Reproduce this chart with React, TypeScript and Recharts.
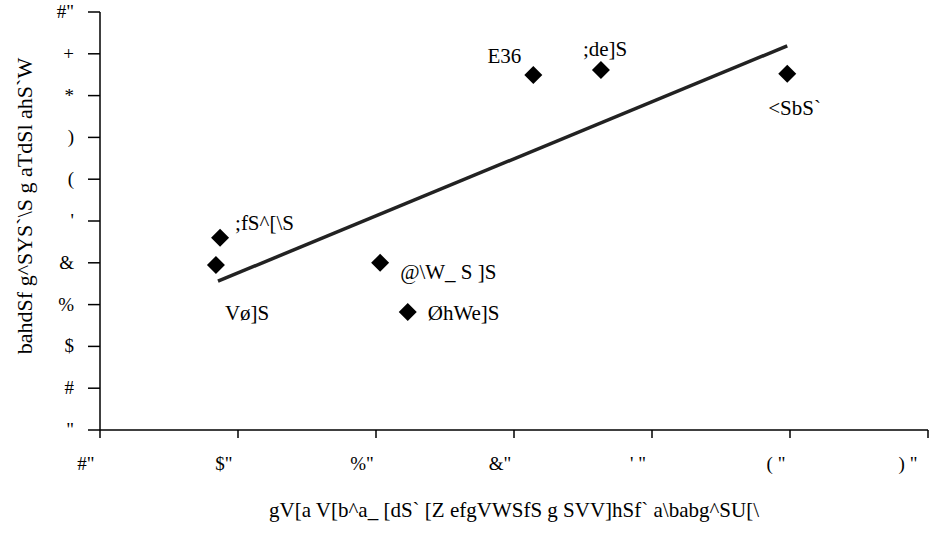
import React from 'react';
import { ScatterChart, Scatter, XAxis, YAxis, LabelList } from 'recharts';

const pointNames = ['Vø]S', ';fS^[\\S', '@\\W_ S ]S', 'ØhWe]S', 'E36', ';de]S', '<SbS`'];
const xValues = [18.4, 18.7, 30.3, 32.3, 41.4, 46.3, 59.8];
const yValues = [3.95, 4.6, 4.0, 2.82, 8.49, 8.61, 8.52];

const trendX = [18.55, 59.8];
const trendY = [3.56, 9.19];

const xTicks = [10, 20, 30, 40, 50, 60, 70];
const xTickLabels = ['#"', '$"', '%"', '&"', '\' "', '( "', ') "'];
const yTicks = [0, 1, 2, 3, 4, 5, 6, 7, 8, 9, 10];
const yTickLabels = ['"', '#', '$', '%', '&', '\'', '(', ')', '*', '+', '#"'];

const xTitle = 'gV[a V[b^a_ [dS` [Z efgVWSfS g SVV]hSf` a\\babg^SU[\\';
const yTitle = 'bahdSf g^SYS`\\S g aTdSl ahS`W';

// label placement (dx, dy from marker centre, text anchor)
const labelPlacement: [number, number, string][] = [
  [9, 55, 'start'],
  [15, -8, 'start'],
  [20, 16, 'start'],
  [20, 8, 'start'],
  [-12, -12, 'end'],
  [-18, -14, 'start'],
  [-19, 41, 'start'],
];

const points = pointNames.map((name, i) => ({ x: xValues[i], y: yValues[i], name, idx: i }));
const trend = trendX.map((x, i) => ({ x, y: trendY[i] }));

const FONT = 'Liberation Serif';

const Diamond = (props: any) => {
  const { cx, cy } = props;
  const r = 9;
  return <polygon points={`${cx},${cy - r} ${cx + r},${cy} ${cx},${cy + r} ${cx - r},${cy}`} fill="#000" />;
};

const PointLabel = (props: any) => {
  const { x, y, width, height, index } = props;
  const cx = x + (width || 0) / 2;
  const cy = y + (height || 0) / 2;
  const [dx, dy, anchor] = labelPlacement[index];
  return (
    <text x={cx + dx} y={cy + dy} textAnchor={anchor as any} style={{ fontFamily: FONT }} fontSize={21} fill="#000">
      {pointNames[index]}
    </text>
  );
};

const XTick = (props: any) => {
  const { x, y, payload } = props;
  const i = xTicks.indexOf(payload.value);
  return (
    <text x={x - 14} y={y + 30} textAnchor="middle" style={{ fontFamily: FONT }} fontSize={19} fill="#000">
      {xTickLabels[i]}
    </text>
  );
};

const YTick = (props: any) => {
  const { x, y, payload } = props;
  const i = yTicks.indexOf(payload.value);
  return (
    <text x={x - 12} y={y + 6} textAnchor="end" style={{ fontFamily: FONT }} fontSize={19} fill="#000">
      {yTickLabels[i]}
    </text>
  );
};

export default function App() {
  return (
    <div style={{ position: 'absolute', left: 0, top: 0, width: 930, height: 550, background: '#fff' }}>
      <ScatterChart width={930} height={550} margin={{ top: 12, right: 2, bottom: 27, left: 40 }}>
        <XAxis
          type="number"
          dataKey="x"
          domain={[10, 70]}
          ticks={xTicks}
          tick={<XTick />}
          tickSize={8}
          axisLine={{ stroke: '#000', strokeWidth: 1.5 }}
          tickLine={{ stroke: '#000', strokeWidth: 1.5 }}
          height={93}
          label={{ value: xTitle, position: 'insideBottom', offset: 6, fontSize: 21, fill: '#000', style: { fontFamily: FONT } }}
        />
        <YAxis
          type="number"
          dataKey="y"
          domain={[0, 10]}
          ticks={yTicks}
          tick={<YTick />}
          tickSize={12}
          width={60}
          axisLine={{ stroke: '#000', strokeWidth: 1.5 }}
          tickLine={{ stroke: '#000', strokeWidth: 1.5 }}
          label={{ value: yTitle, angle: -90, position: 'insideLeft', offset: 0, fontSize: 22, fill: '#000', dx: -16, dy: -15, style: { fontFamily: FONT, textAnchor: 'middle' } }}
        />
        <Scatter
          data={trend}
          line={{ stroke: '#222', strokeWidth: 3.5 }}
          shape={() => null}
          isAnimationActive={false}
        />
        <Scatter data={points} shape={<Diamond />} isAnimationActive={false}>
          <LabelList dataKey="name" content={<PointLabel />} />
        </Scatter>
      </ScatterChart>
    </div>
  );
}
